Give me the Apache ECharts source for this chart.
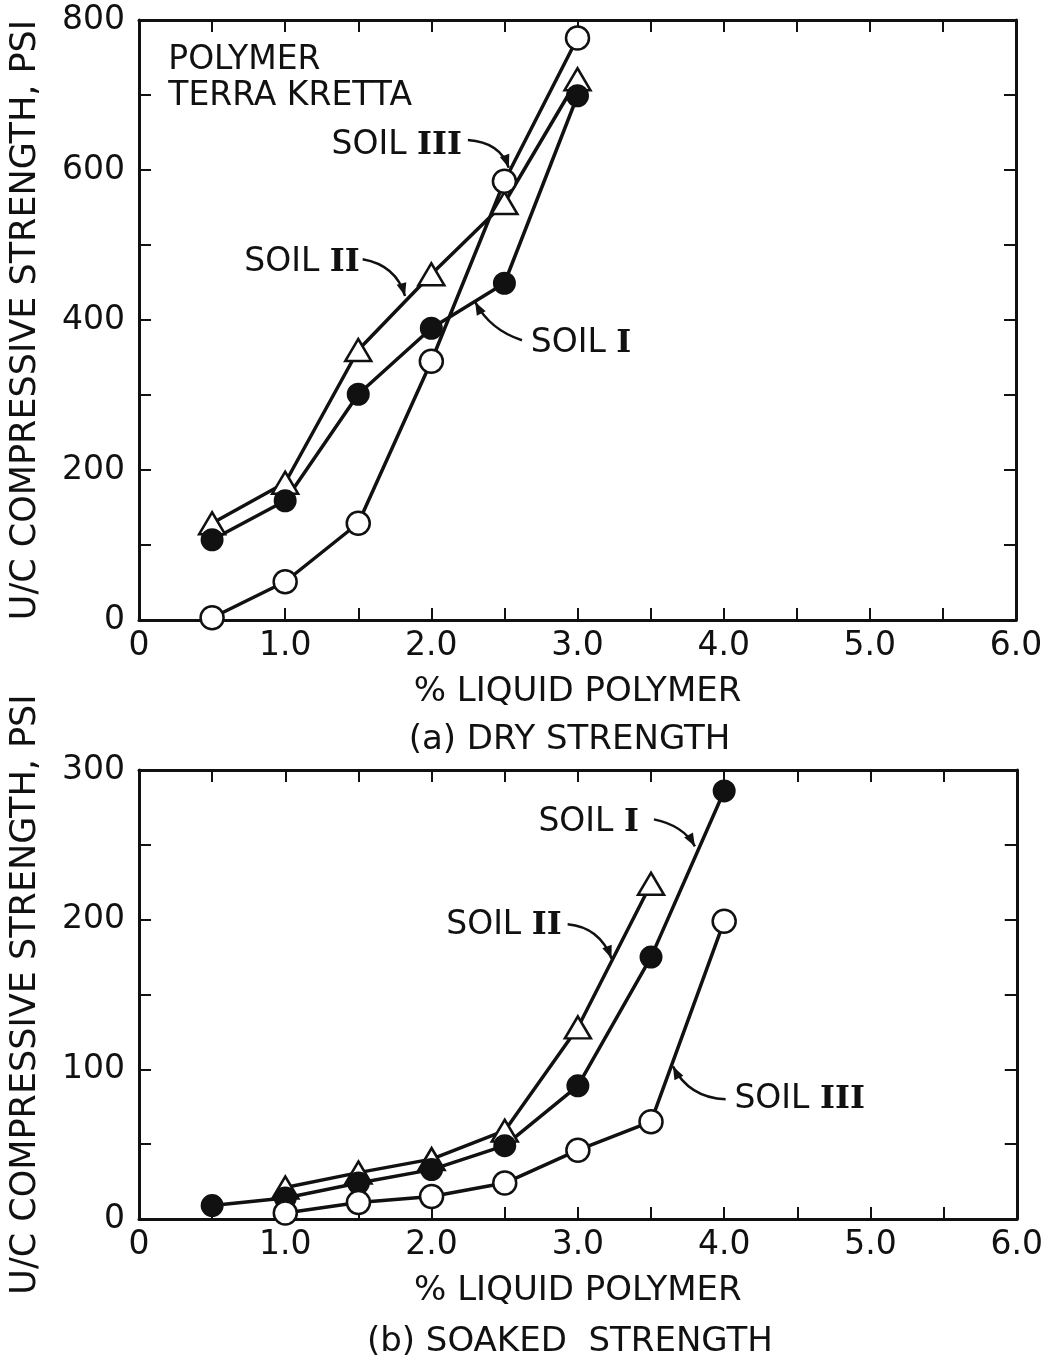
<!DOCTYPE html>
<html>
<head>
<meta charset="utf-8">
<script src="https://cdn.jsdelivr.net/npm/echarts@6/dist/echarts.min.js"></script>
<style>
  html, body { margin: 0; padding: 0; background: #fff; }
  #main { width: 1046px; height: 1362px; }
</style>
</head>
<body>
<div id="main"></div>
<script>
// (a) dry strength
var dryX = [0.5, 1.0, 1.5, 2.0, 2.5, 3.0];
var drySoilI = [107, 159, 301, 389, 449, 699];
var drySoilII = [129, 183, 360, 461, 556, 721];
var drySoilIII = [3, 51, 129, 345, 585, 776];

// (b) soaked strength
var soakX = [0.5, 1.0, 1.5, 2.0, 2.5, 3.0, 3.5, 4.0];
var soakSoilI = [9, 14, 24, 33, 49, 89, 175, 286];
var soakSoilIIX = [1.0, 1.5, 2.0, 2.5, 3.0, 3.5];
var soakSoilII = [21, 31, 40, 59, 128, 224];
var soakSoilIIIX = [1.0, 1.5, 2.0, 2.5, 3.0, 3.5, 4.0];
var soakSoilIII = [4, 11, 15, 24, 46, 65, 199];

var font = 'DejaVu Sans';
var ink = '#111';

function pairs(xs, ys) {
    var out = [];
    for (var i = 0; i < ys.length; i++) {
        out.push([xs[i], ys[i]]);
    }
    return out;
}

function xAx(grid, pos, labels) {
    return {
        type: 'value', gridIndex: grid, position: pos,
        min: 0, max: 6, interval: 0.5,
        name: labels ? '% LIQUID POLYMER' : '',
        nameLocation: 'middle', nameGap: 55,
        nameTextStyle: { fontFamily: font, fontSize: 34, color: ink },
        axisLine: { show: true, onZero: false, lineStyle: { color: ink, width: 3 } },
        axisTick: { show: true, inside: true, length: 12, lineStyle: { color: ink, width: 2 } },
        splitLine: { show: false },
        axisLabel: {
            show: labels, margin: 10, fontFamily: font, fontSize: 33, color: ink,
            hideOverlap: false,
            formatter: function(v) {
                if (v % 1 !== 0) return '';
                return v === 0 ? '0' : v.toFixed(1);
            }
        }
    };
}

function yAx(grid, pos, labels, max, step, labelStep) {
    return {
        type: 'value', gridIndex: grid, position: pos,
        min: 0, max: max, interval: step,
        name: labels ? 'U/C COMPRESSIVE STRENGTH, PSI' : '',
        nameLocation: 'middle', nameGap: 96, nameRotate: 90,
        nameTextStyle: { fontFamily: font, fontSize: 35, color: ink },
        axisLine: { show: true, onZero: false, lineStyle: { color: ink, width: 3 } },
        axisTick: { show: true, inside: true, length: 12, lineStyle: { color: ink, width: 2 } },
        splitLine: { show: false },
        axisLabel: {
            show: labels, margin: 14, fontFamily: font, fontSize: 33, color: ink,
            hideOverlap: false,
            formatter: function(v) { return v % labelStep === 0 ? String(v) : ''; }
        }
    };
}

function soil(data, kind, xi, yi) {
    var s = {
        type: 'line', data: data, xAxisIndex: xi, yAxisIndex: yi,
        lineStyle: { color: ink, width: 3.5 },
        symbol: 'circle', symbolSize: 21,
        itemStyle: { color: ink, borderColor: ink, borderWidth: 2 },
        z: 3, animation: false
    };
    if (kind === 'open') {
        s.symbolSize = 23;
        s.itemStyle = { color: '#fff', borderColor: ink, borderWidth: 2.5 };
    } else if (kind === 'tri') {
        s.symbol = 'triangle';
        s.symbolSize = [26, 22];
        s.itemStyle = { color: '#fff', borderColor: ink, borderWidth: 2.5 };
    }
    return s;
}

var myChart = echarts.init(document.getElementById('main'));
var option = {
    backgroundColor: '#fff',
    animation: false,
    grid: [
        { left: 135, top: 20, width: 881, height: 600 },
        { left: 137, top: 770, width: 882, height: 449 }
    ],
    xAxis: [xAx(0, 'bottom', true), xAx(0, 'top', false), xAx(1, 'bottom', true), xAx(1, 'top', false)],
    yAxis: [
        yAx(0, 'left', true, 800, 100, 200), yAx(0, 'right', false, 800, 100, 200),
        yAx(1, 'left', true, 300, 50, 100), yAx(1, 'right', false, 300, 50, 100)
    ],
    series: [
        soil(pairs(dryX, drySoilII), 'tri', 0, 0),
        soil(pairs(dryX, drySoilI), 'filled', 0, 0),
        soil(pairs(dryX, drySoilIII), 'open', 0, 0),
        soil(pairs(soakSoilIIX, soakSoilII), 'tri', 2, 2),
        soil(pairs(soakX, soakSoilI), 'filled', 2, 2),
        soil(pairs(soakSoilIIIX, soakSoilIII), 'open', 2, 2)
    ]
};
myChart.setOption(option);

// annotations in data coords: label anchor, arrow tail / control / tip
var notes = [
    { g: 0, text: 'SOIL {r|III}', at: [2.21, 633], align: 'right', arrow: [[2.25, 640], [2.47, 637], [2.53, 603]] },
    { g: 0, text: 'SOIL {r|II}', at: [1.51, 477], align: 'right', arrow: [[1.53, 481], [1.76, 473], [1.82, 432]] },
    { g: 0, text: 'SOIL {r|I}', at: [2.68, 369], align: 'left', arrow: [[2.62, 373], [2.40, 387], [2.30, 424]] },
    { g: 1, text: 'SOIL {r|I}', at: [2.73, 265], align: 'left', arrow: [[3.52, 267], [3.72, 263], [3.80, 249]] },
    { g: 1, text: 'SOIL {r|II}', at: [2.10, 196], align: 'left', arrow: [[2.93, 197], [3.15, 195], [3.23, 174]] },
    { g: 1, text: 'SOIL {r|III}', at: [4.07, 80], align: 'left', arrow: [[4.01, 80], [3.76, 81], [3.65, 102]] }
];

function px(g, p) {
    return myChart.convertToPixel({ gridIndex: g }, p);
}

var graphics = [];
notes.forEach(function(n) {
    var a = px(n.g, n.at);
    graphics.push({
        type: 'text', x: a[0], y: a[1], z: 10,
        style: {
            text: n.text, align: n.align, verticalAlign: 'middle',
            font: '33px "' + font + '"', fill: ink,
            rich: { r: { fontFamily: 'DejaVu Serif', fontSize: 32, fontWeight: 'bold', fill: ink } }
        }
    });
    var t = px(n.g, n.arrow[0]), c = px(n.g, n.arrow[1]), e = px(n.g, n.arrow[2]);
    graphics.push({
        type: 'bezierCurve', z: 10,
        shape: { x1: t[0], y1: t[1], cpx1: c[0], cpy1: c[1], x2: e[0], y2: e[1] },
        style: { stroke: ink, lineWidth: 2.5, fill: null }
    });
    var dx = e[0] - c[0], dy = e[1] - c[1], len = Math.sqrt(dx * dx + dy * dy);
    var ux = dx / len, uy = dy / len;
    var bx = e[0] - ux * 13, by = e[1] - uy * 13;
    graphics.push({
        type: 'polygon', z: 10,
        shape: { points: [[e[0], e[1]], [bx - uy * 5, by + ux * 5], [bx + uy * 5, by - ux * 5]] },
        style: { fill: ink }
    });
});

var p0 = px(0, [0.2, 770]);
graphics.push({
    type: 'text', x: p0[0], y: p0[1], z: 10,
    style: { text: 'POLYMER\nTERRA KRETTA', font: '33px "' + font + '"', fill: ink, lineHeight: 36 }
});

var ca = px(0, [3, 0]), cb = px(1, [3, 0]);
graphics.push({
    type: 'text', x: ca[0] - 8, y: 740, z: 10,
    style: { text: '(a) DRY STRENGTH', align: 'center', verticalAlign: 'middle', font: '34px "' + font + '"', fill: ink }
});
graphics.push({
    type: 'text', x: cb[0] - 8, y: 1342, z: 10,
    style: { text: '(b) SOAKED  STRENGTH', align: 'center', verticalAlign: 'middle', font: '34px "' + font + '"', fill: ink }
});

myChart.setOption({ graphic: graphics });
</script>
</body>
</html>
